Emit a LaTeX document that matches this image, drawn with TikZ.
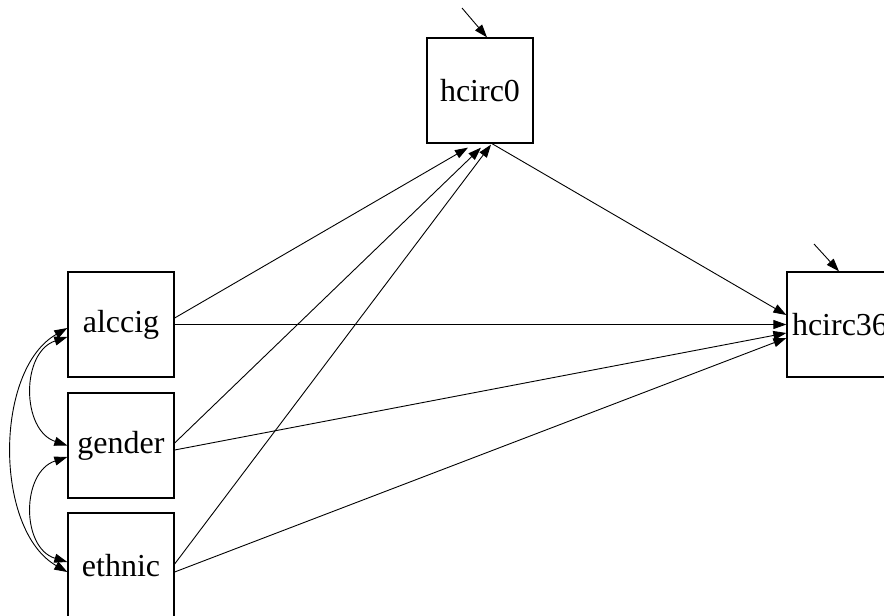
\documentclass[tikz,border=0pt]{standalone}
\usepackage{fontspec}
\setmainfont{Liberation Serif}
\usetikzlibrary{arrows.meta}
\begin{document}
\begin{tikzpicture}[x=1pt,y=-1pt,
  var/.style={draw,line width=1.3pt,minimum width=106pt,minimum height=105pt,
    inner sep=0pt,font=\fontsize{32}{32}\selectfont},
  reg/.style={line width=0.9pt,-{Triangle[length=13pt,width=9pt]}},
  cov/.style={line width=0.9pt,{Triangle[length=13pt,width=9pt]}-{Triangle[length=13pt,width=9pt]}}]
\useasboundingbox (0,0) rectangle (884,616);
\begin{scope}
\clip (0,0) rectangle (884,616);
% observed variables
\node[var] (alccig) at (121,324.5) {alccig};
\node[var] (gender) at (121,445.5) {gender};
\node[var] (ethnic) at (121,565.5) {ethnic};
\node[var] (hcirc0) at (480,90.5) {hcirc0};
\node[var] (hcirc36) at (840,324.5) {hcirc36};
% error terms
\coordinate (e0) at (462,8);
\coordinate (e36) at (814,244);
\end{scope}
\draw[reg] (e0) -- ([xshift=7pt]hcirc0.north);
\draw[reg] (e36) -- ([xshift=-1pt]hcirc36.north);
% regressions on hcirc0
\draw[reg] ([yshift=6.5pt]alccig.east) -- ([xshift=-12pt,yshift=-4pt]hcirc0.south);
\draw[reg] ([yshift=2.5pt]gender.east) -- ([xshift=1pt,yshift=-4pt]hcirc0.south);
\draw[reg] ([yshift=1.5pt]ethnic.east) -- ([xshift=11pt,yshift=-1pt]hcirc0.south);
% regressions on hcirc36
\draw[reg] ([xshift=12pt]hcirc0.south) -- ([yshift=9.5pt]hcirc36.west);
\draw[reg] (alccig.east) -- (hcirc36.west);
\draw[reg] ([yshift=-4.5pt]gender.east) -- ([yshift=-8.5pt]hcirc36.west);
\draw[reg] ([yshift=-6.5pt]ethnic.east) -- ([yshift=-13.5pt]hcirc36.west);
% covariances among exogenous variables
\draw[cov] ([yshift=-3.5pt]alccig.west) .. controls (-6,370) and (-6,530) .. ([yshift=-6.5pt]ethnic.west);
\draw[cov] ([yshift=-12.5pt]alccig.west) .. controls (21,352) and (21,430) .. (gender.west);
\draw[cov] ([yshift=-11.5pt]gender.west) .. controls (21,472) and (21,548) .. ([yshift=3.5pt]ethnic.west);
\end{tikzpicture}
\end{document}
